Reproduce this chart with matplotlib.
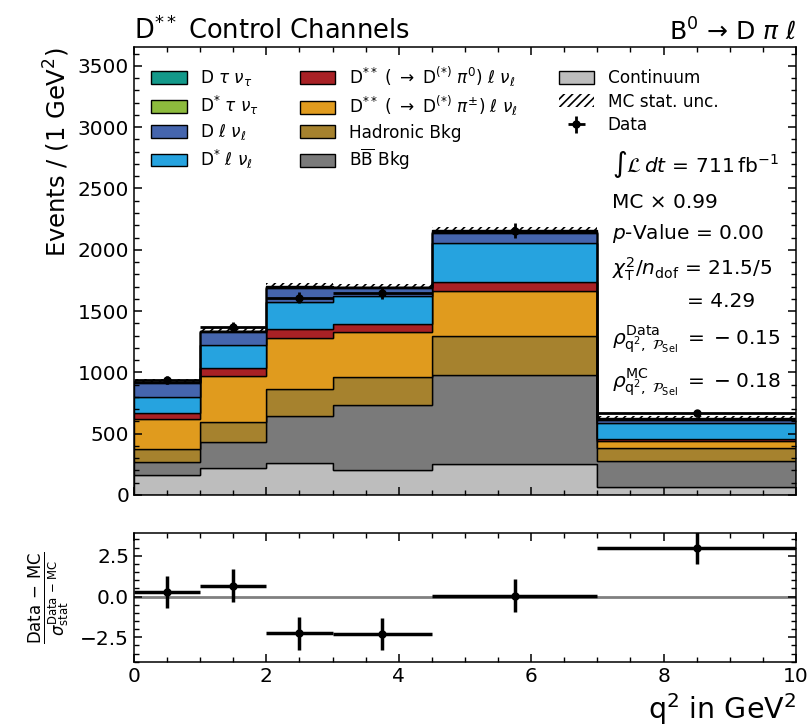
import numpy as np
import matplotlib
matplotlib.use("Agg")
import matplotlib.pyplot as plt
from matplotlib.ticker import AutoMinorLocator, MultipleLocator

# ---------------- data ----------------
bin_edges = [0, 1, 2, 3, 4.5, 7, 10]

continuum   = [163, 223, 258, 204, 255, 63]
bb_bkg      = [103, 206, 383, 527, 723, 214]
hadronic    = [106, 169, 220, 235, 318, 103]
dss_pipm    = [247, 372, 423, 362, 367, 60]
dss_pi0     = [47, 64, 68, 63, 76, 15]
dstar_lnu   = [130, 186, 226, 229, 318, 135]
d_lnu       = [117, 110, 112, 70, 76, 24]
dstar_taunu = [8, 6, 8, 6, 15, 6]
d_taunu     = [4, 4, 5, 4, 12, 5]

mc_stat_unc = [18, 22, 25, 22, 25, 20]

data_values = [937, 1368, 1610, 1645, 2155, 667]
data_errors = [35, 40, 42, 45, 60, 30]

pull_values = [0.27, 0.66, -2.25, -2.30, 0.05, 3.0]
pull_errors = [1.0, 1.0, 1.0, 1.0, 1.0, 1.0]

labels = [
    r"D $\tau$ $\nu_\tau$",
    r"D$^{*}$ $\tau$ $\nu_\tau$",
    r"D $\ell$ $\nu_\ell$",
    r"D$^{*}$ $\ell$ $\nu_\ell$",
    r"D$^{**}$ ( $\rightarrow$ D$^{(*)}$ $\pi^0$) $\ell$ $\nu_\ell$",
    r"D$^{**}$ ( $\rightarrow$ D$^{(*)}$ $\pi^{\pm}$) $\ell$ $\nu_\ell$",
    "Hadronic Bkg",
    r"B$\overline{\mathrm{B}}$ Bkg",
    "Continuum",
]
colors = ["#13998a", "#8dbb3d", "#4565ad", "#26a3df", "#a82125",
          "#e09b1e", "#a6822e", "#7a7a7a", "#bdbdbd"]
components = [d_taunu, dstar_taunu, d_lnu, dstar_lnu, dss_pi0,
              dss_pipm, hadronic, bb_bkg, continuum]

# ---------------- figure ----------------
plt.rcParams["font.family"] = ["DejaVu Sans"]
plt.rcParams["mathtext.fontset"] = "dejavusans"
plt.rcParams["hatch.linewidth"] = 1.2
plt.rcParams["axes.linewidth"] = 1.1

fig = plt.figure(figsize=(8.1, 7.26), dpi=100)
ax = fig.add_axes([0.1654, 0.3182, 0.8173, 0.6164])
axr = fig.add_axes([0.1654, 0.0885, 0.8173, 0.1775], sharex=ax)

edges = np.array(bin_edges)
centers = 0.5 * (edges[1:] + edges[:-1])
halfw = 0.5 * (edges[1:] - edges[:-1])

# stack from bottom (continuum) to top (D tau nu)
bottom = np.zeros(len(centers))
for vals, col, lab in reversed(list(zip(components, colors, labels))):
    vals = np.array(vals, dtype=float)
    ax.stairs(bottom + vals, edges, baseline=bottom, fill=True,
              facecolor=col, edgecolor="black", linewidth=1.0, label=lab)
    bottom = bottom + vals
total = bottom

unc = np.array(mc_stat_unc, dtype=float)
ax.stairs(total + unc, edges, baseline=total - unc, fill=True,
          facecolor="none", edgecolor="black", hatch="////", linewidth=0,
          label="MC stat. unc.")

ax.errorbar(centers, data_values, yerr=data_errors, xerr=halfw, fmt="o",
            color="black", markersize=5, elinewidth=2, capsize=0,
            label="Data", zorder=5)

ax.set_xlim(0, 10)
ax.set_ylim(0, 3650)
ax.yaxis.set_major_locator(MultipleLocator(500))
ax.yaxis.set_minor_locator(AutoMinorLocator(5))
ax.xaxis.set_major_locator(MultipleLocator(2))
ax.xaxis.set_minor_locator(AutoMinorLocator(4))
ax.tick_params(which="both", direction="in", top=True, right=True,
               labelsize=14.5)
ax.tick_params(which="major", length=6, width=1.1)
ax.tick_params(which="minor", length=3.5, width=1.0)
ax.tick_params(axis="x", labelbottom=False)
ax.set_ylabel(r"Events / (1 GeV$^2$)", fontsize=17.5, loc="top")

ax.set_title(r"D$^{**}$ Control Channels", loc="left", fontsize=18.5)
ax.set_title(r"B$^0$ → D $\pi$ $\ell$", loc="right", fontsize=18)

handles, hlabels = ax.get_legend_handles_labels()
order = labels + ["MC stat. unc.", "Data"]
hmap = dict(zip(hlabels, handles))
leg = ax.legend([hmap[l] for l in order], order, loc="upper left",
                ncol=3, frameon=False, fontsize=12.2,
                bbox_to_anchor=(0.0, 1.0), handlelength=2.1,
                handleheight=0.8, columnspacing=2.4, labelspacing=0.32,
                borderaxespad=0.6)

ann_x = 0.7216
fs = 14.5
ax.text(ann_x, 0.722, r"$\int\mathcal{L}\,dt\,{=}\,711\,\mathrm{fb}^{-1}$",
        transform=ax.transAxes, fontsize=fs, va="baseline")
ax.text(ann_x, 0.641, "MC × 0.99", transform=ax.transAxes,
        fontsize=fs, va="baseline")
ax.text(ann_x, 0.572, r"$p$-Value = 0.00", transform=ax.transAxes,
        fontsize=fs, va="baseline")
ax.text(ann_x, 0.492, r"$\chi^2_\mathrm{T}/n_\mathrm{dof}$ = 21.5/5",
        transform=ax.transAxes, fontsize=fs, va="baseline")
ax.text(0.835, 0.420, "= 4.29", transform=ax.transAxes,
        fontsize=fs, va="baseline")
ax.text(ann_x, 0.335,
        r"$\rho^\mathrm{Data}_{\mathrm{q}^2,\ \mathcal{P}_\mathrm{Sel}}\;{=}\;{-}\;0.15$",
        transform=ax.transAxes, fontsize=fs, va="baseline")
ax.text(ann_x, 0.238,
        r"$\rho^\mathrm{MC}_{\mathrm{q}^2,\ \mathcal{P}_\mathrm{Sel}}\;{=}\;{-}\;0.18$",
        transform=ax.transAxes, fontsize=fs, va="baseline")

# ---------------- ratio panel ----------------
axr.axhline(0, color="#808080", linewidth=2, zorder=1)
axr.errorbar(centers, pull_values, yerr=pull_errors, xerr=halfw, fmt="o",
             color="black", markersize=5, elinewidth=2.5, capsize=0, zorder=3)
axr.set_ylim(-4, 3.9)
axr.yaxis.set_major_locator(MultipleLocator(2.5))
axr.yaxis.set_minor_locator(AutoMinorLocator(5))
axr.tick_params(which="both", direction="in", top=True, right=True,
                labelsize=14.5)
axr.tick_params(which="major", length=6, width=1.1)
axr.tick_params(which="minor", length=3.5, width=1.0)
axr.set_xlabel(r"q$^2$ in GeV$^2$", loc="right", fontsize=20.5)
axr.set_ylabel(r"$\frac{\mathrm{Data}\,-\,\mathrm{MC}}{\sigma^{\mathrm{Data}\,-\,\mathrm{MC}}_{\mathrm{stat}}}$",
               fontsize=17, labelpad=6)

fig.savefig("out.png", dpi=100)
